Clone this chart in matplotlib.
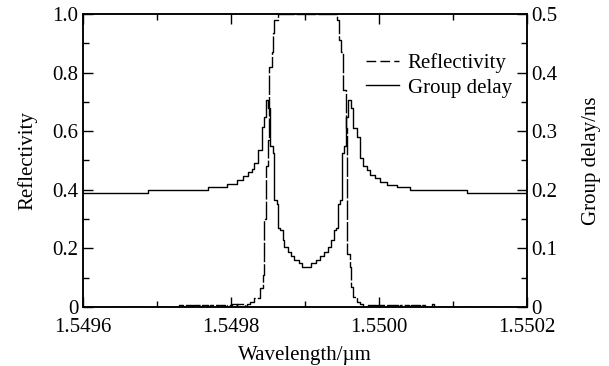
import matplotlib
matplotlib.use("Agg")
import matplotlib.pyplot as plt
from matplotlib.lines import Line2D
from matplotlib.ticker import MultipleLocator, FuncFormatter

plt.rcParams['font.family'] = ['Liberation Serif', 'DejaVu Serif']
plt.rcParams['font.size'] = 15
plt.rcParams['mathtext.fontset'] = 'stix'

# reflectivity (step edges, wavelength in um)
refl_wl = [1.5496, 1.549730, 1.549735, 1.549739, 1.549747, 1.549749, 1.549758,
           1.549761, 1.549769, 1.549772, 1.549781, 1.549782, 1.549792, 1.549795,
           1.549801, 1.549808, 1.549809, 1.549819, 1.549822, 1.549826, 1.549832,
           1.549839, 1.549843, 1.549845, 1.549847, 1.549850, 1.549851, 1.549855,
           1.549857, 1.549859, 1.549864, 1.549943, 1.549946, 1.549949, 1.549952,
           1.549955, 1.549957, 1.549961, 1.549963, 1.549965, 1.549970, 1.549974,
           1.549978, 1.549985, 1.549996, 1.549998, 1.550011, 1.550013, 1.550026,
           1.550028, 1.550041, 1.550043, 1.550056, 1.550058, 1.550062, 1.550072,
           1.550074, 1.5502]
refl = [0, 0.008, 0, 0.008, 0, 0.008, 0,
        0.008, 0, 0.008, 0, 0.008, 0, 0.008,
        0.012, 0.003, 0.010, 0.004, 0.012, 0.018, 0.030,
        0.065, 0.110, 0.300, 0.480, 0.570, 0.820, 0.870,
        0.935, 0.980, 1.000, 0.980, 0.910, 0.870, 0.740,
        0.610, 0.180, 0.137, 0.070, 0.034, 0.017, 0.010,
        0, 0.008, 0.002, 0.008, 0.002, 0.008, 0.002,
        0.008, 0.002, 0.008, 0.002, 0.008, 0, 0.012,
        0, 0]

# group delay (ns)
gd_wl = [1.5496, 1.549688, 1.549769, 1.549795, 1.549808, 1.549816, 1.549823,
         1.549828, 1.549832, 1.549837, 1.549842, 1.549845, 1.549847, 1.549850,
         1.549853, 1.549857, 1.549858, 1.549862, 1.549864, 1.549866, 1.549870,
         1.549872, 1.549877, 1.549882, 1.549886, 1.549892, 1.549896, 1.549909,
         1.549915, 1.549920, 1.549926, 1.549931, 1.549935, 1.549939, 1.549942,
         1.549945, 1.549947, 1.549950, 1.549953, 1.549955, 1.549958, 1.549962,
         1.549965, 1.549970, 1.549974, 1.549978, 1.549984, 1.549988, 1.549995,
         1.550001, 1.550011, 1.550024, 1.550042, 1.550119, 1.5502]
gd = [0.1945, 0.200, 0.205, 0.210, 0.2165, 0.2235, 0.230,
      0.235, 0.245, 0.2675, 0.3075, 0.325, 0.353, 0.340,
      0.275, 0.2625, 0.1825, 0.175, 0.135, 0.131, 0.115,
      0.1025, 0.094, 0.087, 0.080, 0.075, 0.0685, 0.075,
      0.080, 0.087, 0.094, 0.1025, 0.115, 0.131, 0.135,
      0.175, 0.1825, 0.2625, 0.275, 0.325, 0.353, 0.340,
      0.305, 0.290, 0.255, 0.240, 0.2335, 0.225, 0.220,
      0.2135, 0.208, 0.205, 0.200, 0.1945, 0.1945]

fig = plt.figure(figsize=(6.09, 3.66), dpi=100)
ax = fig.add_axes([0.136, 0.161, 0.729, 0.801])
ax2 = ax.twinx()

ax.step(refl_wl, refl, where='post', color='black', lw=1.0,
        linestyle=(0, (14, 1.5)))
ax2.step(gd_wl, gd, where='post', color='black', lw=1.0)

ax.set_xlim(1.5496, 1.5502)
ax.set_ylim(0, 1.0)
ax2.set_ylim(0, 0.5)

ax.xaxis.set_major_locator(MultipleLocator(0.0002))
ax.xaxis.set_minor_locator(MultipleLocator(0.0001))
ax.yaxis.set_major_locator(MultipleLocator(0.2))
ax.yaxis.set_minor_locator(MultipleLocator(0.1))
ax2.yaxis.set_major_locator(MultipleLocator(0.1))
ax2.yaxis.set_minor_locator(MultipleLocator(0.05))

fmt = FuncFormatter(lambda v, p: '0' if abs(v) < 1e-9 else '%.1f' % v)
ax.yaxis.set_major_formatter(fmt)
ax2.yaxis.set_major_formatter(fmt)
ax.xaxis.set_major_formatter(FuncFormatter(lambda v, p: '%.4f' % v))

ax.tick_params(axis='both', which='both', direction='in', top=True, width=1.0)
ax.tick_params(axis='y', which='both', right=False)
ax.tick_params(which='major', length=7, pad=3)
ax.tick_params(which='minor', length=4)
ax.tick_params(axis='x', which='major', pad=8)
ax2.tick_params(which='both', direction='in', width=1.0)
ax2.tick_params(which='major', length=7, pad=3)
ax2.tick_params(which='minor', length=4)

for a in (ax, ax2):
    for s in a.spines.values():
        s.set_linewidth(1.1)

ax.set_xlabel('Wavelength/µm', labelpad=6)
ax.set_ylabel('Reflectivity', labelpad=11)
ax2.set_ylabel('Group delay/ns', labelpad=18)

handles = [Line2D([], [], color='black', lw=1.0, linestyle=(0, (7, 3))),
           Line2D([], [], color='black', lw=1.0)]
ax.legend(handles, ['Reflectivity', 'Group delay'], loc='upper right',
          bbox_to_anchor=(0.985, 0.895), frameon=False, handlelength=1.6,
          handletextpad=0.4, labelspacing=0.25, borderaxespad=0)

fig.savefig('out.png', dpi=100)
